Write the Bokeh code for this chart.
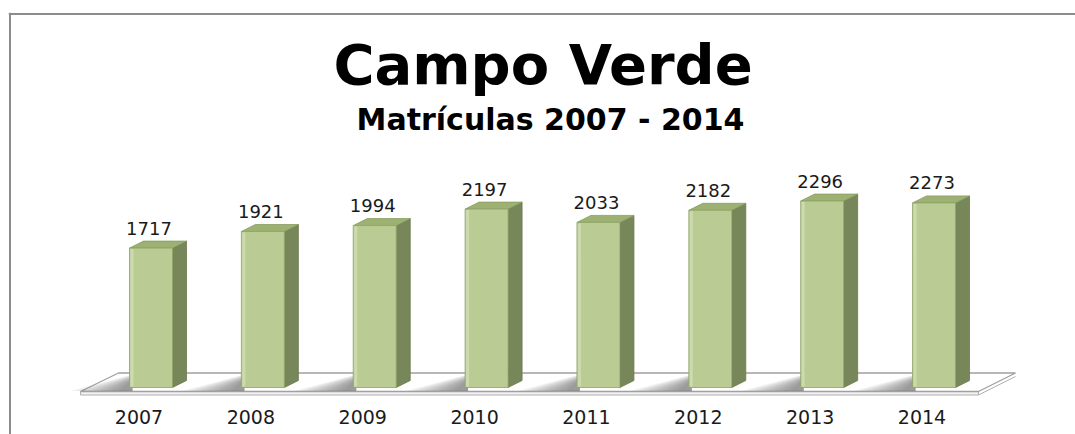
from bokeh.plotting import figure
from bokeh.models import Span
from bokeh.embed import file_html
from bokeh.resources import INLINE
from bokeh.core.properties import value

# ---- data ----
years = ["2007", "2008", "2009", "2010", "2011", "2012", "2013", "2014"]
matriculas = [1717, 1921, 1994, 2197, 2033, 2182, 2296, 2273]
title_text = "Campo Verde"
subtitle_text = "Matrículas 2007 - 2014"

# ---- layout constants (page pixels) ----
W, H = 1075, 434
PX_CAT = 111.86      # pixels per category step
PX_VAL = 0.0812      # pixels per unit of value
X0_PAGE = 150.5      # page x of first category
Y0_PAGE = 387.0      # page y of value 0
MB_LEFT, MB_TOP = 8, 12


def ux(px):
    return (px - X0_PAGE) / PX_CAT


def uy(py):
    return (Y0_PAGE - py) / PX_VAL


p = figure(width=W, height=H,
           x_range=(ux(MB_LEFT), ux(W)),
           y_range=(uy(H), uy(MB_TOP)),
           output_backend="svg", toolbar_location=None,
           x_axis_location=None, y_axis_location=None,
           min_border_left=MB_LEFT, min_border_top=MB_TOP,
           min_border_right=0, min_border_bottom=0)
p.grid.visible = False
p.outline_line_color = None
p.background_fill_color = "white"
p.border_fill_color = "white"

# chart border (top and left visible)
p.add_layout(Span(location=uy(13.5), dimension="width", line_color="#8C8C8C", line_width=2))
p.add_layout(Span(location=ux(9.5), dimension="height", line_color="#8C8C8C", line_width=2))

# ---- floor (thin slab) ----
p.patch([ux(80), ux(978), ux(978), ux(80)], [uy(391), uy(391), uy(394.5), uy(394.5)],
        fill_color="#F2F2F2", line_color="#B0B0B0", line_width=1)
p.patch([ux(80), ux(978), ux(1015), ux(118)], [uy(391), uy(391), uy(372.5), uy(372.5)],
        fill_color="white", line_color="#A0A0A0", line_width=1.3)
p.line([ux(978), ux(1015)], [uy(394.5), uy(376)], line_color="#B0B0B0", line_width=1)

xs = list(range(len(years)))
hw = 21.5 / PX_CAT
dx = 14 / PX_CAT
dy = 7 / PX_VAL

# ---- soft shadows on floor (to the left of each bar) ----
for k in range(9):
    wpx = 62 - 6 * k
    sx, sy = [], []
    for i in xs:
        l = i - hw + 3 / PX_CAT
        sx.append([l, l, l - wpx / PX_CAT])
        sy.append([uy(374 + 0.6 * k), uy(390.5), uy(390.5)])
    p.patches(sx, sy, fill_color="#555555", fill_alpha=0.085, line_color=None)

# ---- bars ----
side_x = [[i + hw, i + hw + dx, i + hw + dx, i + hw] for i in xs]
side_y = [[0, dy, v + dy, v] for v in matriculas]
p.patches(side_x, side_y, fill_color="#77875A", line_color="#6A7A4E", line_width=0.8)

top_x = [[i - hw, i + hw, i + hw + dx, i - hw + dx] for i in xs]
top_y = [[v, v, v + dy, v + dy] for v in matriculas]
p.patches(top_x, top_y, fill_color="#9DB173", line_color="#889D5F", line_width=0.8)

p.quad(left=[i - hw for i in xs], right=[i + hw for i in xs],
       bottom=0, top=matriculas, fill_color="#BACC94", line_color="#8FA367", line_width=0.8)
# soft highlight along front left edge
p.quad(left=[i - hw + 1 / PX_CAT for i in xs], right=[i - hw + 4 / PX_CAT for i in xs],
       bottom=[1 / PX_VAL] * len(xs), top=[v - 1 / PX_VAL for v in matriculas],
       fill_color="#CCDAAE", line_color=None)

# ---- value labels ----
p.text(x=[i - 2 / PX_CAT for i in xs], y=[v + 20 / PX_VAL for v in matriculas],
       text=[str(v) for v in matriculas], text_align="center", text_baseline="middle",
       text_font=value("DejaVu Sans"), text_font_size="18px", text_color="#1A1A1A")

# ---- category labels ----
p.text(x=[i - 12 / PX_CAT for i in xs], y=[uy(416)] * len(xs), text=years,
       text_align="center", text_baseline="middle",
       text_font=value("DejaVu Sans"), text_font_size="19px", text_color="#1A1A1A")

# ---- titles ----
p.text(x=[ux(542.5)], y=[uy(64)], text=[title_text], text_align="center",
       text_baseline="middle", text_font=value("DejaVu Sans"),
       text_font_style="bold", text_font_size="56px", text_color="#000000")
p.text(x=[ux(550)], y=[uy(119)], text=[subtitle_text], text_align="center",
       text_baseline="middle", text_font=value("DejaVu Sans"),
       text_font_style="bold", text_font_size="30px", text_color="#000000")

open("out.html", "w").write(file_html(p, INLINE))
